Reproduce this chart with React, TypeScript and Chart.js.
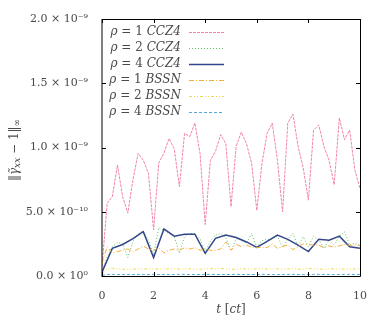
import React, { useEffect, useRef } from "react";
import { Chart, registerables } from "chart.js";

Chart.register(...registerables);

const T_FINE = [0, 0.2, 0.4, 0.6, 0.8, 1.0, 1.2, 1.4, 1.6, 1.8, 2.0, 2.2, 2.4, 2.6, 2.8, 3.0, 3.2, 3.4, 3.6, 3.8, 4.0, 4.2, 4.4, 4.6, 4.8, 5.0, 5.2, 5.4, 5.6, 5.8, 6.0, 6.2, 6.4, 6.6, 6.8, 7.0, 7.2, 7.4, 7.6, 7.8, 8.0, 8.2, 8.4, 8.6, 8.8, 9.0, 9.2, 9.4, 9.6, 9.8, 10.0];
const T_COARSE = [0, 0.4, 0.8, 1.2, 1.6, 2.0, 2.4, 2.8, 3.2, 3.6, 4.0, 4.4, 4.8, 5.2, 5.6, 6.0, 6.4, 6.8, 7.2, 7.6, 8.0, 8.4, 8.8, 9.2, 9.6, 10.0];

// values in units of 1e-9
const RHO1_CCZ4 = [0.07, 0.565, 0.617, 0.864, 0.617, 0.49, 0.75, 0.955, 0.9, 0.8, 0.36, 0.88, 0.955, 1.07, 0.99, 0.695, 1.11, 1.085, 1.19, 0.955, 0.4, 0.9, 0.97, 1.1, 1.03, 0.54, 1.01, 1.12, 1.03, 0.877, 0.51, 0.877, 1.11, 1.19, 0.9, 0.5, 1.19, 1.26, 1.01, 0.84, 0.59, 1.135, 1.175, 1.01, 0.9, 0.71, 1.23, 1.06, 1.135, 0.825, 0.68];
const RHO2_CCZ4 = [0.03, 0.15, 0.228, 0.26, 0.255, 0.145, 0.27, 0.33, 0.35, 0.28, 0.163, 0.376, 0.355, 0.33, 0.31, 0.176, 0.31, 0.33, 0.33, 0.29, 0.19, 0.27, 0.319, 0.33, 0.3, 0.197, 0.29, 0.28, 0.255, 0.33, 0.225, 0.275, 0.285, 0.29, 0.31, 0.225, 0.285, 0.33, 0.228, 0.306, 0.228, 0.31, 0.28, 0.215, 0.28, 0.24, 0.31, 0.345, 0.24, 0.255, 0.24];
const RHO4_CCZ4 = [0.03, 0.215, 0.245, 0.29, 0.345, 0.143, 0.366, 0.31, 0.325, 0.325, 0.176, 0.293, 0.319, 0.3, 0.265, 0.223, 0.27, 0.319, 0.285, 0.24, 0.19, 0.285, 0.278, 0.31, 0.228, 0.215];
const RHO1_BSSN = [0.1, 0.228, 0.176, 0.19, 0.2, 0.21, 0.19, 0.21, 0.233, 0.21, 0.2, 0.22, 0.18, 0.2, 0.21, 0.2, 0.22, 0.21, 0.22, 0.2, 0.21, 0.2, 0.2, 0.21, 0.265, 0.2, 0.245, 0.23, 0.24, 0.225, 0.22, 0.225, 0.22, 0.25, 0.215, 0.23, 0.24, 0.205, 0.23, 0.25, 0.245, 0.24, 0.24, 0.22, 0.235, 0.225, 0.235, 0.245, 0.24, 0.24, 0.235];
const RHO2_BSSN = [0.02, 0.055, 0.06, 0.055, 0.052, 0.055, 0.053, 0.055, 0.056, 0.054, 0.055, 0.055, 0.054, 0.055, 0.056, 0.053, 0.055, 0.056, 0.054, 0.052, 0.055, 0.058, 0.054, 0.06, 0.055, 0.052, 0.054, 0.056, 0.055, 0.053, 0.056, 0.055, 0.054, 0.055, 0.056, 0.052, 0.055, 0.056, 0.054, 0.053, 0.058, 0.055, 0.054, 0.052, 0.055, 0.056, 0.055, 0.054, 0.053, 0.055, 0.054];
const RHO4_BSSN = [0.005, 0.012, 0.013, 0.012, 0.011, 0.012, 0.012, 0.013, 0.012, 0.011, 0.013, 0.012, 0.012, 0.011, 0.012, 0.013, 0.012, 0.012, 0.011, 0.012, 0.013, 0.012, 0.012, 0.011, 0.012, 0.012, 0.013, 0.012, 0.011, 0.012, 0.012, 0.013, 0.012, 0.012, 0.011, 0.012, 0.012, 0.013, 0.012, 0.011, 0.012, 0.012, 0.013, 0.012, 0.012, 0.011, 0.012, 0.012, 0.013, 0.012, 0.012];

const SERIES_RHO = ["1", "2", "4", "1", "2", "4"];
const SERIES_METHOD = ["CCZ4", "CCZ4", "CCZ4", "BSSN", "BSSN", "BSSN"];
const SERIES_COLORS = ["#f383a8", "#62c262", "#35478c", "#f3ad3a", "#efd94a", "#55a8dc"];
const SERIES_DASH: number[][] = [[3, 1], [1, 2], [], [5, 2, 1, 2], [3, 2, 1, 2, 1, 2], [3, 2]];
const SERIES_WIDTH = [1, 1, 1.5, 1, 1, 1];

const X_TICKS = [0, 2, 4, 6, 8, 10];
const Y_TICKS = [0, 0.5, 1.0, 1.5, 2.0];
const Y_TICK_LABELS = ["0.0 × 10⁰", "5.0 × 10⁻¹⁰", "1.0 × 10⁻⁹", "1.5 × 10⁻⁹", "2.0 × 10⁻⁹"];

const SERIF = "'DejaVu Serif', serif";
const TEXT_COLOR = "#4a4a4a";

function pts(ts: number[], vs: number[]) {
  return ts.map((t, i) => ({ x: t, y: vs[i] }));
}

const decorPlugin = {
  id: "decor",
  afterDraw(chart: any) {
    const ctx = chart.ctx;
    const a = chart.chartArea;
    const xs = chart.scales.x;
    const ys = chart.scales.y;
    ctx.save();
    // frame
    ctx.strokeStyle = "#000";
    ctx.lineWidth = 1;
    ctx.beginPath();
    ctx.moveTo(a.left, a.top + 0.5);
    ctx.lineTo(a.right + 0.5, a.top + 0.5);
    ctx.lineTo(a.right + 0.5, a.bottom + 0.5);
    ctx.lineTo(a.left, a.bottom + 0.5);
    ctx.stroke();
    ctx.beginPath();
    ctx.moveTo(a.left, a.top);
    ctx.lineTo(a.left, a.bottom + 1);
    ctx.stroke();
    // inward ticks
    const tl = 4;
    ctx.beginPath();
    X_TICKS.forEach((t) => {
      const px = Math.round(xs.getPixelForValue(t)) + 0.5;
      ctx.moveTo(px, a.bottom);
      ctx.lineTo(px, a.bottom - tl);
      ctx.moveTo(px, a.top);
      ctx.lineTo(px, a.top + tl);
    });
    Y_TICKS.forEach((v) => {
      const py = Math.round(ys.getPixelForValue(v)) + 0.5;
      ctx.moveTo(a.left, py);
      ctx.lineTo(a.left + tl, py);
      ctx.moveTo(a.right, py);
      ctx.lineTo(a.right - tl, py);
    });
    ctx.stroke();

    // legend
    const fs = 12;
    const rowY0 = 31.7;
    const rowDy = 16.1;
    const textRight = 181;
    const sx0 = 189;
    const sx1 = 224;
    ctx.textBaseline = "middle";
    ctx.textAlign = "left";
    chart.data.datasets.forEach((ds: any, i: number) => {
      const y = rowY0 + i * rowDy;
      const segs = [
        { s: "ρ", it: true },
        { s: " = " + SERIES_RHO[i] + " ", it: false },
        { s: SERIES_METHOD[i], it: true },
      ];
      let total = 0;
      segs.forEach((g) => {
        ctx.font = (g.it ? "italic " : "") + fs + "px " + SERIF;
        total += ctx.measureText(g.s).width;
      });
      let x = textRight - total;
      ctx.fillStyle = TEXT_COLOR;
      segs.forEach((g) => {
        ctx.font = (g.it ? "italic " : "") + fs + "px " + SERIF;
        ctx.fillText(g.s, x, y);
        x += ctx.measureText(g.s).width;
      });
      ctx.strokeStyle = ds.borderColor;
      ctx.lineWidth = ds.borderWidth;
      ctx.setLineDash(ds.borderDash || []);
      ctx.beginPath();
      ctx.moveTo(sx0, Math.round(y) + 0.5);
      ctx.lineTo(sx1, Math.round(y) + 0.5);
      ctx.stroke();
      ctx.setLineDash([]);
    });

    // x title: t [ct]
    ctx.fillStyle = TEXT_COLOR;
    ctx.textBaseline = "middle";
    const xsegs = [
      { s: "t", it: true },
      { s: " [", it: false },
      { s: "ct", it: true },
      { s: "]", it: false },
    ];
    let tw = 0;
    xsegs.forEach((g) => {
      ctx.font = (g.it ? "italic " : "") + "12px " + SERIF;
      tw += ctx.measureText(g.s).width;
    });
    let xx = (a.left + a.right) / 2 - tw / 2;
    xsegs.forEach((g) => {
      ctx.font = (g.it ? "italic " : "") + "12px " + SERIF;
      ctx.fillText(g.s, xx, 310);
      xx += ctx.measureText(g.s).width;
    });

    // y title: ‖γ̃_xx − 1‖_∞ rotated
    ctx.save();
    ctx.translate(15, 150);
    ctx.rotate(-Math.PI / 2);
    const ysegs = [
      { s: "‖", it: false, sub: false },
      { s: "γ̃", it: true, sub: false },
      { s: "xx", it: true, sub: true },
      { s: " − 1‖", it: false, sub: false },
      { s: "∞", it: false, sub: true },
    ];
    let yw = 0;
    ysegs.forEach((g) => {
      ctx.font = (g.it ? "italic " : "") + (g.sub ? "9px " : "12px ") + SERIF;
      yw += ctx.measureText(g.s).width;
    });
    let yx = -yw / 2;
    ysegs.forEach((g) => {
      ctx.font = (g.it ? "italic " : "") + (g.sub ? "9px " : "12px ") + SERIF;
      ctx.fillText(g.s, yx, g.sub ? 3 : 0);
      yx += ctx.measureText(g.s).width;
    });
    ctx.restore();

    ctx.restore();
  },
};

export default function App() {
  const ref = useRef<HTMLCanvasElement>(null);
  useEffect(() => {
    if (!ref.current) return;
    const allVals = [RHO1_CCZ4, RHO2_CCZ4, RHO4_CCZ4, RHO1_BSSN, RHO2_BSSN, RHO4_BSSN];
    const allTs = [T_FINE, T_FINE, T_COARSE, T_FINE, T_FINE, T_FINE];
    const datasets = allVals.map((v, i) => ({
      label: "ρ = " + SERIES_RHO[i] + " " + SERIES_METHOD[i],
      data: pts(allTs[i], v),
      borderColor: SERIES_COLORS[i],
      backgroundColor: SERIES_COLORS[i],
      borderDash: SERIES_DASH[i],
      borderWidth: SERIES_WIDTH[i],
      pointRadius: 0,
      tension: 0,
      fill: false,
      order: 6 - i,
    }));
    const chart = new Chart(ref.current, {
      type: "line",
      data: { datasets },
      options: {
        responsive: false,
        animation: false,
        layout: { padding: { top: 19, right: 18, left: 0, bottom: 0 } },
        plugins: { legend: { display: false }, tooltip: { enabled: false } },
        scales: {
          x: {
            type: "linear",
            min: 0,
            max: 10,
            grid: { display: false },
            border: { display: false },
            afterFit: (s: any) => {
              s.height = 51;
            },
            afterBuildTicks: (s: any) => {
              s.ticks = X_TICKS.map((v) => ({ value: v }));
            },
            ticks: {
              padding: 6,
              color: TEXT_COLOR,
              font: { family: SERIF, size: 11 },
              maxRotation: 0,
              callback: (v: any) => String(v),
            },
          },
          y: {
            type: "linear",
            min: 0,
            max: 2,
            grid: { display: false },
            border: { display: false },
            afterFit: (s: any) => {
              s.width = 102;
            },
            afterBuildTicks: (s: any) => {
              s.ticks = Y_TICKS.map((v) => ({ value: v }));
            },
            ticks: {
              padding: 6,
              color: TEXT_COLOR,
              font: { family: SERIF, size: 11 },
              callback: (v: any) => {
                const idx = Y_TICKS.indexOf(Number(v));
                return idx >= 0 ? Y_TICK_LABELS[idx] : "";
              },
            },
          },
        },
      },
      plugins: [decorPlugin],
    });
    return () => chart.destroy();
  }, []);
  return (
    <div style={{ position: "absolute", left: 0, top: 0, width: 378, height: 327, background: "#fff" }}>
      <canvas ref={ref} width={378} height={327} style={{ display: "block" }} />
    </div>
  );
}
